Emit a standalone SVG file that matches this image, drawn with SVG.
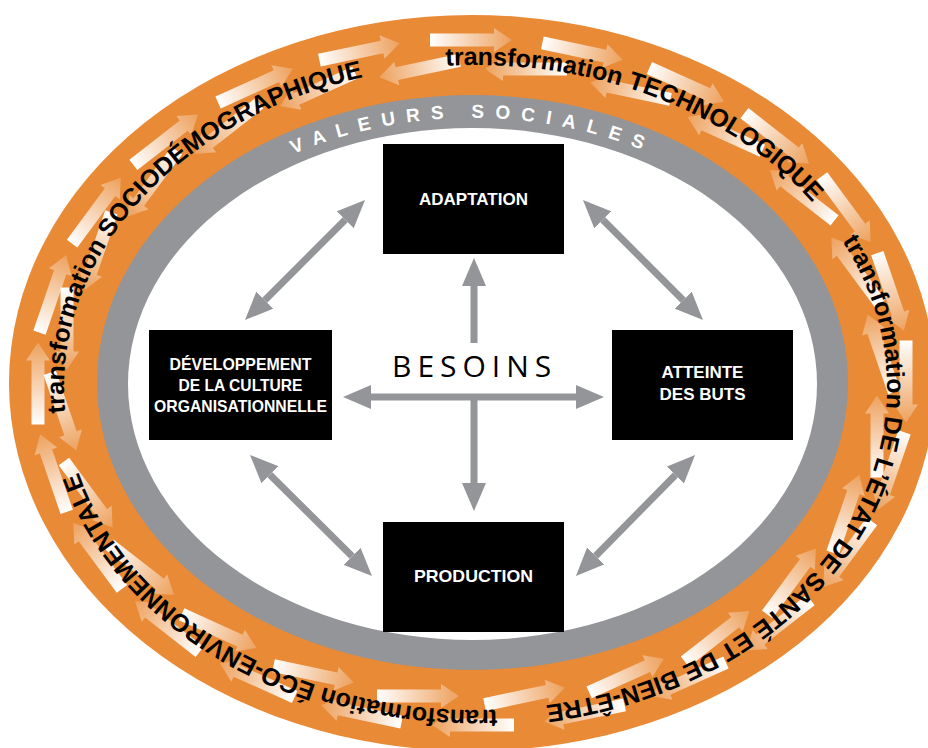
<svg xmlns="http://www.w3.org/2000/svg" width="928" height="748" viewBox="0 0 928 748">
<defs>
<style>
.band{font-family:"Liberation Sans",Arial,sans-serif;font-weight:bold;font-size:25px;fill:#000;}
.val{font-family:"Liberation Sans",Arial,sans-serif;font-weight:bold;font-size:19px;fill:#fff;letter-spacing:11px;}
.box{fill:#000;}
.lbl{font-family:"Liberation Sans",Arial,sans-serif;font-weight:bold;font-size:17px;fill:#fff;text-anchor:middle;}
.sm{font-size:16.5px;}
.con{stroke:#939598;stroke-width:7;fill:none;}
.besoins{font-family:"Open Sans","Liberation Sans",sans-serif;font-size:30px;fill:#000;letter-spacing:6px;}
</style>
<linearGradient id="fadeR" x1="0" y1="0" x2="1" y2="0"><stop offset="0" stop-color="#fff"/><stop offset="1" stop-color="#fff" stop-opacity="0.2"/></linearGradient>
<linearGradient id="fadeL" x1="1" y1="0" x2="0" y2="0"><stop offset="0" stop-color="#fff"/><stop offset="1" stop-color="#fff" stop-opacity="0.2"/></linearGradient>
<marker id="ah" markerUnits="userSpaceOnUse" markerWidth="28" markerHeight="24" refX="0" refY="12" orient="auto-start-reverse" viewBox="0 0 28 24"><path d="M0,0 L28,12 L0,24 Z" fill="#939598"/></marker>
<marker id="ba" markerUnits="userSpaceOnUse" markerWidth="200" markerHeight="200" refX="0" refY="0" orient="auto" overflow="visible">
<path d="M-42,-21.5 L22,-21.5 L22,-27 L40,-15 L22,-3 L22,-8.5 L-42,-8.5 Z" fill="url(#fadeR)"/>
<path d="M95,7.5 L31,7.5 L31,2 L13,14 L31,26 L31,20.5 L95,20.5 Z" fill="url(#fadeL)"/>
</marker>
<path id="tp" d="M475.5,710 A411.5,322.5 0 0 1 475.5,65 A411.5,322.5 0 0 1 475.5,710 A411.5,322.5 0 0 1 475.5,65 A411.5,322.5 0 0 1 475.5,710"/>
<path id="vp" d="M114.5,386.5 A358,268.5 0 0 1 830.5,386.5"/>
</defs>
<g id="background">
<ellipse cx="472" cy="383" rx="463" ry="368" fill="#E98A36"/>
<path d="M891,382.5 A419,327.5 0 0 1 876.7,467.3 A419,327.5 0 0 1 834.9,546.25 A419,327.5 0 0 1 768.3,614.1 A419,327.5 0 0 1 681.5,666.1 A419,327.5 0 0 1 580.4,698.8 A419,327.5 0 0 1 472,710 A419,327.5 0 0 1 363.6,698.8 A419,327.5 0 0 1 262.5,666.1 A419,327.5 0 0 1 175.7,614.1 A419,327.5 0 0 1 109.1,546.25 A419,327.5 0 0 1 67.3,467.3 A419,327.5 0 0 1 53,382.5 A419,327.5 0 0 1 67.3,297.7 A419,327.5 0 0 1 109.1,218.75 A419,327.5 0 0 1 175.7,150.9 A419,327.5 0 0 1 262.5,98.9 A419,327.5 0 0 1 363.6,66.2 A419,327.5 0 0 1 472,55 A419,327.5 0 0 1 580.4,66.2 A419,327.5 0 0 1 681.5,98.9 A419,327.5 0 0 1 768.3,150.9 A419,327.5 0 0 1 834.9,218.75 A419,327.5 0 0 1 876.7,297.7 A419,327.5 0 0 1 891,382.5" fill="none" stroke="none" marker-start="url(#ba)" marker-mid="url(#ba)"/>
<text class="band"><textPath href="#tp" startOffset="553">transformation SOCIODÉMOGRAPHIQUE</textPath></text>
<text class="band"><textPath href="#tp" startOffset="1127">transformation TECHNOLOGIQUE</textPath></text>
<text class="band"><textPath href="#tp" startOffset="1580">transformation DE L’ÉTAT DE SANTÉ ET DE BIEN-ÊTRE</textPath></text>
<text class="band"><textPath href="#tp" startOffset="2292">transformation ÉCO-ENVIRONNEMENTALE</textPath></text>
<ellipse cx="472.5" cy="382.5" rx="375.5" ry="287.5" fill="#939598"/>
<text class="val" text-anchor="middle"><textPath href="#vp" startOffset="50%">VALEURS SOCIALES</textPath></text>
<ellipse cx="472.5" cy="384" rx="344.5" ry="256" fill="#fff"/>
</g>
<g id="connectors">
<line class="con" x1="474" y1="343" x2="474" y2="286" marker-end="url(#ah)"/>
<line class="con" x1="474" y1="397" x2="474" y2="483" marker-end="url(#ah)"/>
<line class="con" x1="371" y1="397" x2="576" y2="397" marker-start="url(#ah)" marker-end="url(#ah)"/>
<line class="con" x1="345.2" y1="219.8" x2="264.8" y2="300.2" marker-start="url(#ah)" marker-end="url(#ah)"/>
<line class="con" x1="602.8" y1="219.8" x2="683.2" y2="300.2" marker-start="url(#ah)" marker-end="url(#ah)"/>
<line class="con" x1="269.9" y1="474.7" x2="352.1" y2="556.3" marker-start="url(#ah)" marker-end="url(#ah)"/>
<line class="con" x1="675.4" y1="475" x2="595.6" y2="556" marker-start="url(#ah)" marker-end="url(#ah)"/>
</g>
<g id="besoins"><text class="besoins" x="392" y="377">BESOINS</text></g>
<g id="adaptation"><rect class="box" x="383" y="144" width="181" height="110"/><text class="lbl" x="473.5" y="205">ADAPTATION</text></g>
<g id="developpement"><rect class="box" x="149" y="330" width="183" height="110"/>
<text class="lbl sm" x="240.5" y="370" textLength="142" lengthAdjust="spacingAndGlyphs">DÉVELOPPEMENT</text>
<text class="lbl sm" x="240.5" y="391" textLength="124" lengthAdjust="spacingAndGlyphs">DE LA CULTURE</text>
<text class="lbl sm" x="240.5" y="412" textLength="173" lengthAdjust="spacingAndGlyphs">ORGANISATIONNELLE</text></g>
<g id="atteinte"><rect class="box" x="612" y="330" width="181" height="110"/><text class="lbl" x="702.5" y="378">ATTEINTE</text><text class="lbl" x="702.5" y="400">DES BUTS</text></g>
<g id="production"><rect class="box" x="383" y="522" width="181" height="110"/><text class="lbl" x="473.5" y="582" textLength="119" lengthAdjust="spacingAndGlyphs">PRODUCTION</text></g>
</svg>
